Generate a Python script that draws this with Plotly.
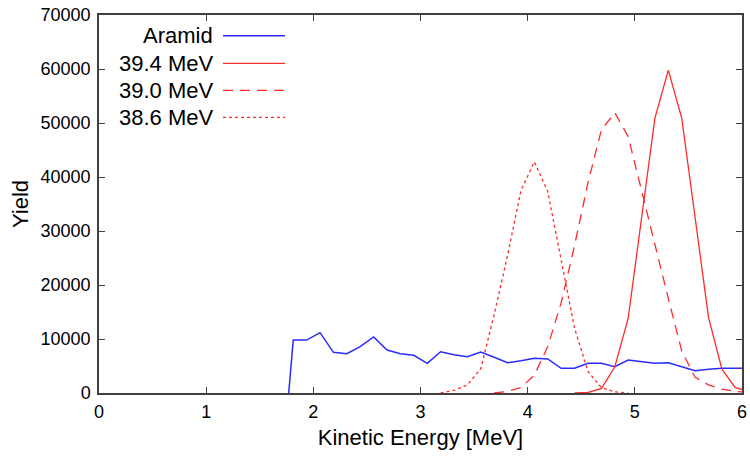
import plotly.graph_objects as go

# ---- data ----
aramid_x = [1.77, 1.8125, 1.9375, 2.0625, 2.1875, 2.3125, 2.4375, 2.5625, 2.6875, 2.8125, 2.9375,
            3.0625, 3.1875, 3.3125, 3.4375, 3.5625, 3.6875, 3.8125, 3.9375, 4.0625, 4.1875,
            4.3125, 4.4375, 4.5625, 4.6875, 4.8125, 4.9375, 5.0625, 5.1875, 5.3125, 5.4375,
            5.5625, 5.6875, 5.8125, 5.9375, 6.0625]
aramid_y = [0, 9800, 9800, 11170, 7530, 7280, 8580, 10370, 7960, 7280, 6980,
            5500, 7650, 7100, 6730, 7590, 6610, 5610, 5980, 6420, 6300,
            4570, 4570, 5500, 5500, 4870, 6110, 5870, 5500, 5610, 4870,
            4130, 4380, 4570, 4570, 4570]

e394_x = [4.4375, 4.5625, 4.6875, 4.8125, 4.9375, 5.0625, 5.1875, 5.3125, 5.4375, 5.5625,
          5.6875, 5.8125, 5.9375, 6.0625]
e394_y = [0, 100, 800, 4800, 13800, 32300, 50900, 59800, 50900, 32500,
          14000, 4400, 1000, 300]

e390_x = [3.6875, 3.8125, 3.9375, 4.0625, 4.1875, 4.3125, 4.4375, 4.5625, 4.6875, 4.8125,
          4.9375, 5.0625, 5.1875, 5.3125, 5.4375, 5.5625, 5.6875, 5.8125, 5.9375, 6.0625]
e390_y = [0, 300, 1000, 3300, 8600, 16700, 27300, 38900, 48700, 51900,
          47500, 37700, 27500, 17500, 7800, 2900, 1500, 700, 300, 100]

e386_x = [3.1875, 3.3125, 3.4375, 3.5625, 3.6875, 3.8125, 3.9375, 4.0625, 4.1875, 4.3125,
          4.4375, 4.5625, 4.6875, 4.8125, 4.9375]
e386_y = [0, 500, 1500, 4500, 14500, 25500, 37500, 42800, 37300, 24500,
          12000, 4000, 1000, 200, 0]

series_names = ["Aramid", "39.4 MeV", "39.0 MeV", "38.6 MeV"]
x_ticks = [0, 1, 2, 3, 4, 5, 6]
y_ticks = [0, 10000, 20000, 30000, 40000, 50000, 60000, 70000]

FONT = "Liberation Sans, Arial"
BLUE = "#2b2bff"
RED = "#ff2a2a"
styles = [
    dict(color=BLUE, width=1.5, dash="solid"),
    dict(color=RED, width=1.3, dash="solid"),
    dict(color=RED, width=1.3, dash="10px,7px"),
    dict(color=RED, width=1.3, dash="3px,3px"),
]
xs = [aramid_x, e394_x, e390_x, e386_x]
ys = [aramid_y, e394_y, e390_y, e386_y]

fig = go.Figure()
for name, x, y, st in zip(series_names, xs, ys, styles):
    fig.add_trace(go.Scatter(x=x, y=y, mode="lines", name=name, line=st,
                             showlegend=False))

# gnuplot-style legend: right-aligned text followed by line sample
row_y = [0.9452, 0.8722, 0.8008, 0.7294]
for name, st, yy in zip(series_names, styles, row_y):
    fig.add_annotation(x=0.1800, y=yy, xref="paper", yref="paper", text=name,
                       showarrow=False, xanchor="right", yanchor="middle",
                       font=dict(family=FONT, size=22, color="black"))
    fig.add_shape(type="line", xref="paper", yref="paper", x0=0.1928, x1=0.2893,
                  y0=yy, y1=yy, line=st)

axis_common = dict(showline=True, linecolor="#404040", linewidth=1.5, mirror="ticks",
                   ticks="inside", ticklen=6, tickwidth=1.2, tickcolor="#404040",
                   showgrid=False, zeroline=False, automargin=False,
                   tickfont=dict(family=FONT, size=18, color="black"))

fig.update_layout(
    width=750, height=457,
    margin=dict(l=99, r=8, t=15, b=64),
    paper_bgcolor="white", plot_bgcolor="white",
    xaxis=dict(range=[0, 6], tickvals=x_ticks, ticktext=[str(v) for v in x_ticks],
               ticklabelstandoff=2,
               title=dict(text="Kinetic Energy [MeV]", standoff=8,
                          font=dict(family=FONT, size=22, color="black")),
               **axis_common),
    yaxis=dict(range=[0, 70000], tickvals=y_ticks, ticktext=[str(v) for v in y_ticks],
               ticklabelstandoff=3,
               title=dict(text="Yield", standoff=6,
                          font=dict(family=FONT, size=22, color="black")),
               **axis_common),
)

fig.write_html("out.html")
